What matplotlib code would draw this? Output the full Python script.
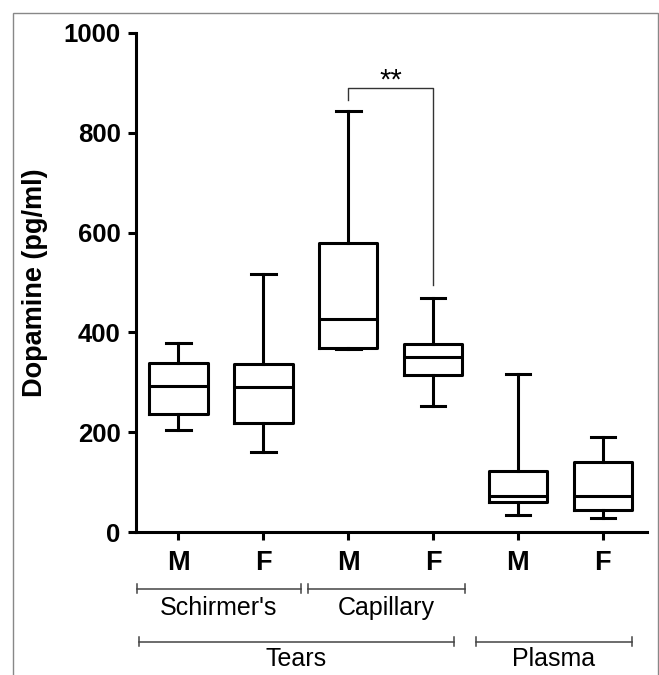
import matplotlib
matplotlib.use("Agg")
import matplotlib.pyplot as plt
from matplotlib.patches import Rectangle
import matplotlib.transforms as mtransforms

# ---- data ----
labels = ["M", "F", "M", "F", "M", "F"]
whislo = [205, 160, 367, 252, 34, 28]
q1 = [237, 219, 369, 315, 60, 45]
med = [292, 290, 426, 351, 72, 72]
q3 = [339, 337, 579, 377, 122, 140]
whishi = [378, 517, 844, 469, 317, 190]

sig_pair = (3, 4)
sig_levels = (866, 889, 495)   # left drop end, top, right drop end
sig_text = "**"

groups_lvl1 = [("Schirmer's", 0.51, 2.44), ("Capillary", 2.53, 4.37)]
groups_lvl2 = [("Tears", 0.53, 4.25), ("Plasma", 4.51, 6.34)]

yticks = [0, 200, 400, 600, 800, 1000]

plt.rcParams['font.family'] = ['Liberation Sans', 'DejaVu Sans']

fig = plt.figure(figsize=(6.59, 6.75), dpi=100)
W, H = 659, 675
ax = fig.add_axes([136 / W, 1 - 532 / H, (647 - 136) / W, (532 - 33) / H])

stats = []
for i in range(len(labels)):
    stats.append(dict(whislo=whislo[i], q1=q1[i], med=med[i], q3=q3[i],
                      whishi=whishi[i], fliers=[], label=labels[i]))

lw = 2.2
ax.bxp(stats, positions=range(1, len(labels) + 1), widths=0.69,
       showfliers=False,
       boxprops=dict(color='black', linewidth=lw),
       medianprops=dict(color='black', linewidth=lw),
       whiskerprops=dict(color='black', linewidth=lw),
       capprops=dict(color='black', linewidth=lw),
       capwidths=0.29)

ax.set_xlim(0.5, 6.52)
ax.set_ylim(0, 1000)
ax.set_yticks(yticks)
ax.set_yticklabels([str(v) for v in yticks], fontsize=18.5, fontweight='bold')
ax.set_xticks(range(1, len(labels) + 1))
ax.set_xticklabels(labels, fontsize=19.5, fontweight='bold')
ax.tick_params(axis='both', length=6, width=lw, direction='out')
ax.tick_params(axis='x', pad=7)
ax.tick_params(axis='y', pad=5)
for s in ['top', 'right']:
    ax.spines[s].set_visible(False)
for s in ['left', 'bottom']:
    ax.spines[s].set_linewidth(lw)
ax.set_ylabel("Dopamine (pg/ml)", fontsize=19.5, fontweight='bold', labelpad=11)

# significance bracket
x0, x1 = sig_pair
yl, yt, yr = sig_levels
ax.plot([x0, x0, x1, x1], [yl, yt, yt, yr], color='#333333', linewidth=1.0,
        clip_on=False)
ax.text((x0 + x1) / 2, yt - 1, sig_text, ha='center', va='baseline',
        fontsize=21, color='black')

# group brackets below axis
trans = mtransforms.blended_transform_factory(ax.transData, ax.transAxes)
def bracket(name, a, b, yline, ytext):
    ax.plot([a, b], [yline, yline], color='#444444', linewidth=1.1,
            transform=trans, clip_on=False)
    for x in (a, b):
        ax.plot([x, x], [yline - 0.009, yline + 0.009], color='#444444',
                linewidth=1.1, transform=trans, clip_on=False)
    ax.text((a + b) / 2, ytext, name, ha='center', va='center', fontsize=18,
            transform=trans, color='black')

for name, a, b in groups_lvl1:
    bracket(name, a, b, -0.114, -0.152)
for name, a, b in groups_lvl2:
    bracket(name, a, b, -0.220, -0.255)

# figure frame
fig.patches.append(Rectangle((13 / W, -0.01), (658 - 13) / W, (H - 13) / H + 0.01,
                             transform=fig.transFigure, fill=False,
                             edgecolor='#888888', linewidth=1.0))

fig.savefig("out.png", dpi=100)
